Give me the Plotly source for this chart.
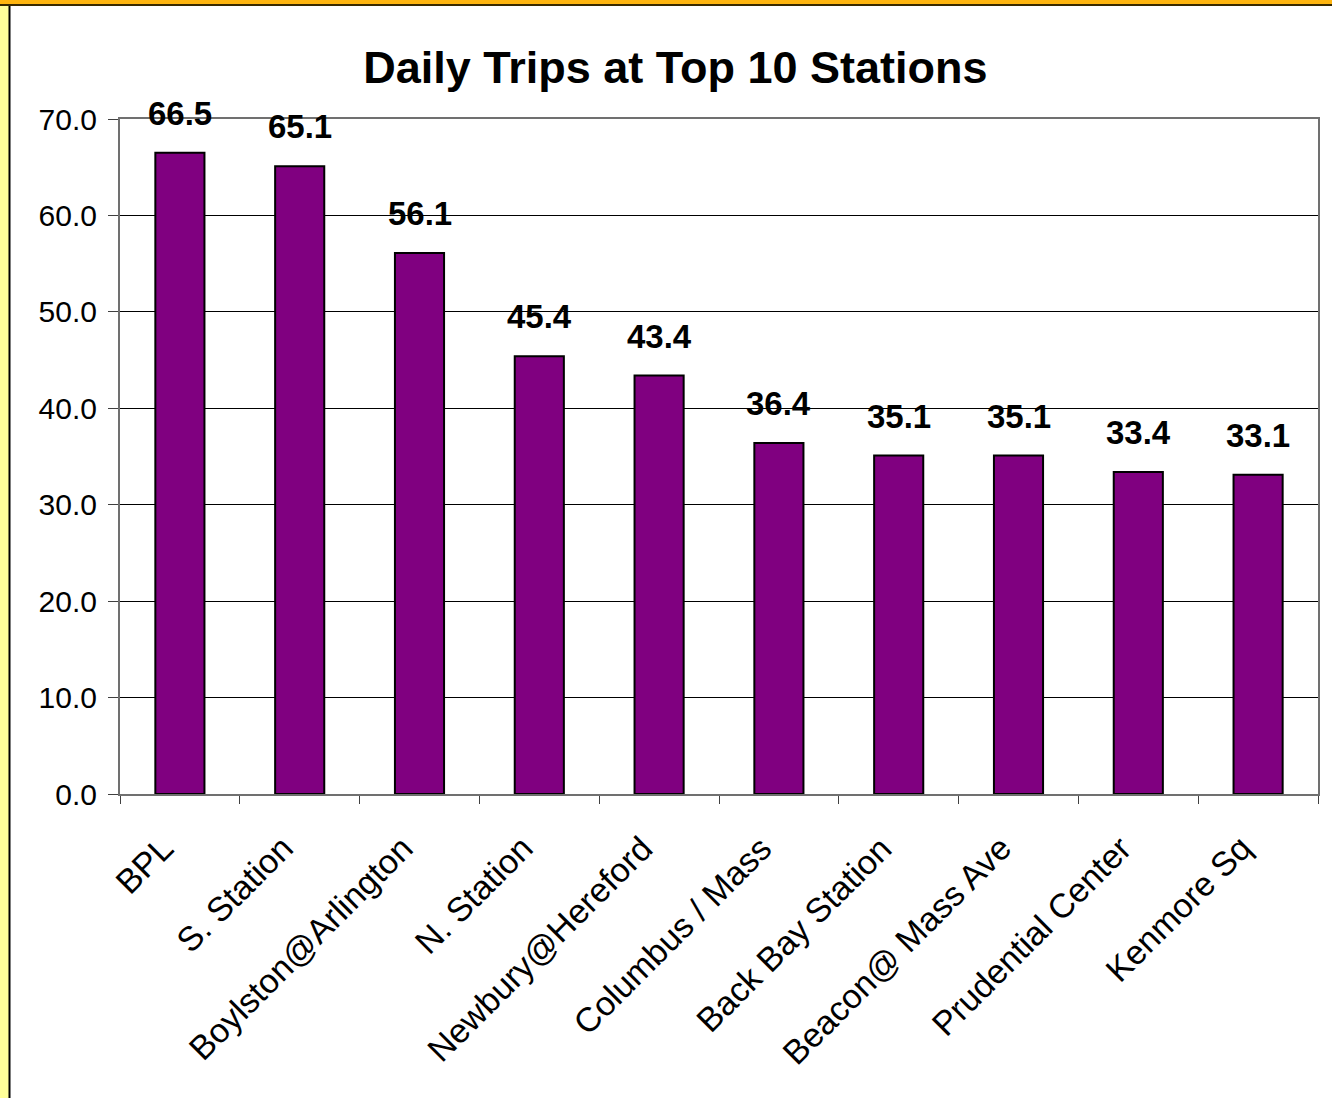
import plotly.graph_objects as go

stations = ["BPL", "S. Station", "Boylston@Arlington", "N. Station", "Newbury@Hereford",
            "Columbus / Mass", "Back Bay Station", "Beacon@ Mass Ave", "Prudential Center", "Kenmore Sq"]
trips = [66.5, 65.1, 56.1, 45.4, 43.4, 36.4, 35.1, 35.1, 33.4, 33.1]
y_ticks = [0, 10, 20, 30, 40, 50, 60, 70]

W, H = 1332, 1098
L, R, T, B = 120, 14, 119, 304
pw = W - L - R
ph = H - T - B

fig = go.Figure(go.Bar(
    x=stations,
    y=trips,
    marker=dict(color="#800080", line=dict(color="black", width=2)),
    width=0.41,
))

# value labels above bars
for s, v in zip(stations, trips):
    fig.add_annotation(x=s, y=v, text="<b>%.1f</b>" % v, showarrow=False,
                       yanchor="bottom", yshift=19,
                       font=dict(size=33, color="black", family="Liberation Sans, Arial"))

# rotated category labels (Excel-style anchoring)
for s in stations:
    fig.add_annotation(x=s, y=0, text=s, showarrow=False, textangle=-45,
                       xanchor="right", yanchor="top", xshift=3, yshift=-32,
                       font=dict(size=34, color="black", family="Liberation Sans, Arial"))

# yellow strip on left and orange bar on top (slide frame)
fig.add_shape(type="rect", xref="paper", yref="paper",
              x0=-L / pw, x1=(9 - L) / pw, y0=-B / ph, y1=1 + T / ph,
              fillcolor="#FFFF99", line_width=0, layer="below")
fig.add_shape(type="line", xref="paper", yref="paper",
              x0=(9.5 - L) / pw, x1=(9.5 - L) / pw, y0=-B / ph, y1=1 + (T - 5) / ph,
              line=dict(color="black", width=2))
fig.add_shape(type="rect", xref="paper", yref="paper",
              x0=-L / pw, x1=1 + R / pw, y0=1 + (T - 5) / ph, y1=1 + T / ph,
              fillcolor="#FFB50F", line_width=0)
fig.add_shape(type="line", xref="paper", yref="paper",
              x0=-L / pw, x1=1 + R / pw, y0=1 + (T - 5) / ph, y1=1 + (T - 5) / ph,
              line=dict(color="#3a2a00", width=2))

fig.update_layout(
    width=W, height=H,
    margin=dict(l=L, r=R, t=T, b=B, autoexpand=False),
    paper_bgcolor="white",
    plot_bgcolor="white",
    font=dict(family="Liberation Sans, Arial", color="black"),
    title=dict(text="<b>Daily Trips at Top 10 Stations</b>", x=0.507, xref="container",
               y=1 - 67 / H, yref="container", xanchor="center", yanchor="middle",
               font=dict(size=45, color="black")),
    showlegend=False,
)
fig.update_xaxes(
    range=[-0.5, len(stations) - 0.5],
    showticklabels=False, tickson="boundaries",
    ticks="outside", ticklen=8, tickcolor="#404040",
    showline=True, linecolor="#707070", linewidth=2, mirror=True,
    showgrid=False,
)
fig.update_yaxes(
    range=[0, 70], tickvals=y_ticks, tickformat=".1f", tickfont=dict(size=30),
    ticks="outside", ticklen=10, tickcolor="#404040", ticklabelstandoff=5,
    showline=True, linecolor="#707070", linewidth=2, mirror=True,
    showgrid=True, gridcolor="black", gridwidth=1, zeroline=False,
)

fig.write_html("out.html", config={"displayModeBar": False},
               post_script="document.body.style.margin='0';")
